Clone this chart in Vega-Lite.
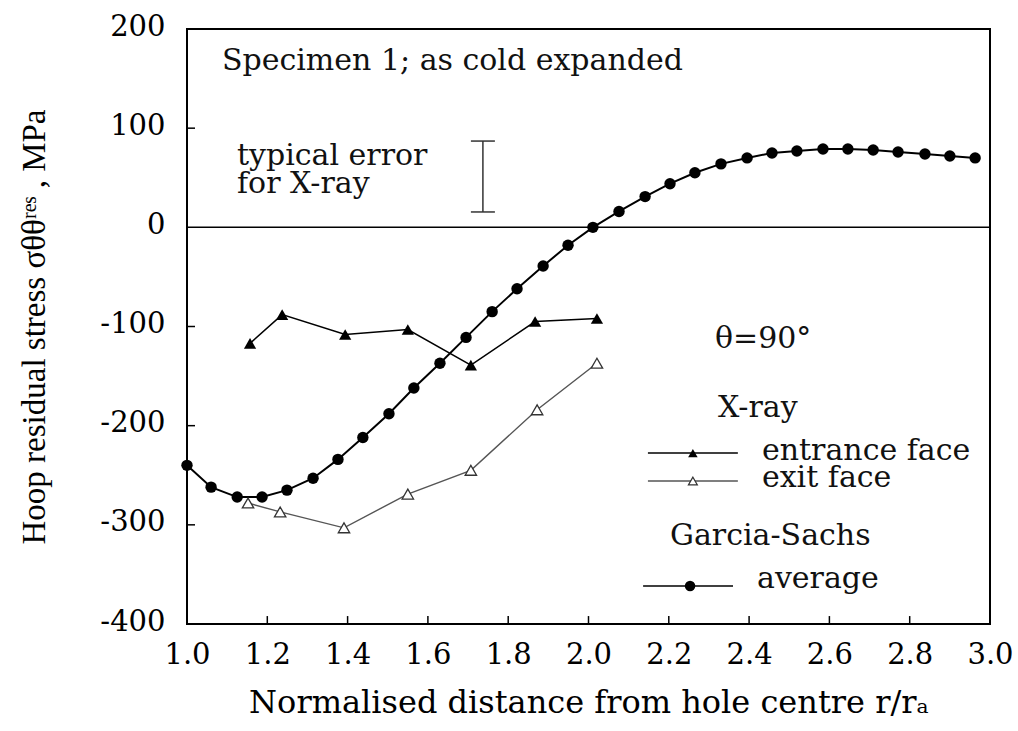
{
  "$schema": "https://vega.github.io/schema/vega-lite/v6.json",
  "width": 803,
  "height": 595,
  "autosize": {"type": "none"},
  "padding": {"left": 187, "top": 29, "right": 28, "bottom": 107},
  "background": "white",
  "config": {
    "font": "DejaVu Serif",
    "view": {"stroke": "black", "strokeWidth": 2},
    "axis": {"grid": false, "domain": false, "ticks": false, "labelColor": "black", "titleColor": "black", "titleFontWeight": "normal", "labelFlush": false, "labelOverlap": false}
  },
  "datasets": {
    "average": [
      {"x": 1.0, "y": -240}, {"x": 1.060, "y": -262}, {"x": 1.125, "y": -272}, {"x": 1.187, "y": -272},
      {"x": 1.249, "y": -265}, {"x": 1.314, "y": -253}, {"x": 1.376, "y": -234}, {"x": 1.438, "y": -212},
      {"x": 1.503, "y": -188}, {"x": 1.565, "y": -162}, {"x": 1.630, "y": -137}, {"x": 1.695, "y": -111},
      {"x": 1.760, "y": -85}, {"x": 1.822, "y": -62}, {"x": 1.887, "y": -39}, {"x": 1.949, "y": -18},
      {"x": 2.011, "y": 0}, {"x": 2.076, "y": 16}, {"x": 2.141, "y": 31}, {"x": 2.203, "y": 44},
      {"x": 2.265, "y": 55}, {"x": 2.330, "y": 64}, {"x": 2.395, "y": 70}, {"x": 2.457, "y": 75},
      {"x": 2.519, "y": 77}, {"x": 2.584, "y": 79}, {"x": 2.646, "y": 79}, {"x": 2.709, "y": 78},
      {"x": 2.771, "y": 76}, {"x": 2.838, "y": 74}, {"x": 2.900, "y": 72}, {"x": 2.963, "y": 70}
    ],
    "entrance": [
      {"x": 1.157, "y": -117}, {"x": 1.237, "y": -88}, {"x": 1.394, "y": -108}, {"x": 1.550, "y": -103},
      {"x": 1.707, "y": -139}, {"x": 1.867, "y": -95}, {"x": 2.021, "y": -92}
    ],
    "exit": [
      {"x": 1.152, "y": -278}, {"x": 1.232, "y": -287}, {"x": 1.391, "y": -303}, {"x": 1.550, "y": -269},
      {"x": 1.707, "y": -245}, {"x": 1.872, "y": -184}, {"x": 2.021, "y": -137}
    ]
  },
  "encoding": {
    "x": {"field": "x", "type": "quantitative", "scale": {"domain": [1, 3], "nice": false, "zero": false},
      "axis": {"values": [1, 1.2, 1.4, 1.6, 1.8, 2, 2.2, 2.4, 2.6, 2.8, 3], "format": ".1f", "labelFontSize": 29, "labelPadding": 16,
        "title": "Normalised distance from hole centre r/rₐ", "titleFontSize": 32, "titlePadding": 18}},
    "y": {"field": "y", "type": "quantitative", "scale": {"domain": [-400, 200], "nice": false},
      "axis": {"values": [-400, -300, -200, -100, 0, 100, 200], "labelExpr": "'' + datum.value", "labelFontSize": 29, "labelPadding": 22, "labelOffset": -3,
        "title": "Hoop residual stress σθθʳᵉˢ , MPa", "titleFont": "Liberation Serif", "titleFontSize": 33, "titlePadding": 48}}
  },
  "layer": [
    {"data": {"values": [{"x": 1.2, "y": -400, "y2": -392}, {"x": 1.4, "y": -400, "y2": -392}, {"x": 1.6, "y": -400, "y2": -392}, {"x": 1.8, "y": -400, "y2": -392}, {"x": 2.0, "y": -400, "y2": -392}, {"x": 2.2, "y": -400, "y2": -392}, {"x": 2.4, "y": -400, "y2": -392}, {"x": 2.6, "y": -400, "y2": -392}, {"x": 2.8, "y": -400, "y2": -392}]},
      "mark": {"type": "rule", "color": "black", "strokeWidth": 1.5}, "encoding": {"y2": {"field": "y2"}}},
    {"data": {"values": [{"x": 1, "x2": 1.02, "y": -300}, {"x": 1, "x2": 1.02, "y": -200}, {"x": 1, "x2": 1.02, "y": -100}, {"x": 1, "x2": 1.02, "y": 100}]},
      "mark": {"type": "rule", "color": "black", "strokeWidth": 1.5}, "encoding": {"x2": {"field": "x2"}}},
    {"data": {"values": [{"x": 1, "x2": 3, "y": 0}]}, "mark": {"type": "rule", "color": "black", "strokeWidth": 1.5}, "encoding": {"x2": {"field": "x2"}}},
    {"data": {"name": "average"}, "mark": {"type": "line", "color": "black", "strokeWidth": 2}},
    {"data": {"name": "average"}, "mark": {"type": "point", "shape": "circle", "filled": true, "color": "black", "size": 130, "opacity": 1}},
    {"data": {"name": "entrance"}, "mark": {"type": "line", "color": "black", "strokeWidth": 1.5}},
    {"data": {"name": "entrance"}, "mark": {"type": "point", "shape": "triangle-up", "filled": true, "color": "black", "size": 150, "opacity": 1}},
    {"data": {"name": "exit"}, "mark": {"type": "line", "color": "#555555", "strokeWidth": 1.4}},
    {"data": {"name": "exit"}, "mark": {"type": "point", "shape": "triangle-up", "filled": true, "fill": "white", "stroke": "#333333", "strokeWidth": 1.3, "size": 130, "opacity": 1}},
    {"data": {"values": [{"x": 1.737, "y": 15.5, "y2": 87}]}, "mark": {"type": "rule", "color": "#333333", "strokeWidth": 1.5}, "encoding": {"y2": {"field": "y2"}}},
    {"data": {"values": [{"x": 1.737, "y": 15.5}, {"x": 1.737, "y": 87}]}, "mark": {"type": "tick", "orient": "horizontal", "color": "#333333", "size": 24, "thickness": 1.5, "opacity": 1}},
    {"data": {"values": [
      {"x": 1.087, "y": 158.7, "label": "Specimen 1; as cold expanded"},
      {"x": 1.1245, "y": 62.9, "label": "typical error"},
      {"x": 1.1245, "y": 34.6, "label": "for X-ray"},
      {"x": 2.315, "y": -121.7, "label": "θ=90°"},
      {"x": 2.3225, "y": -191.3, "label": "X-ray"},
      {"x": 2.432, "y": -234.6, "label": "entrance face"},
      {"x": 2.432, "y": -261.8, "label": "exit face"},
      {"x": 2.203, "y": -320.3, "label": "Garcia-Sachs"},
      {"x": 2.4197, "y": -363.7, "label": "average"}
    ]}, "mark": {"type": "text", "align": "left", "baseline": "alphabetic", "fontSize": 30, "color": "#111111"}, "encoding": {"text": {"field": "label"}}},
    {"data": {"values": [{"x": 2.148, "y": -227.6}, {"x": 2.372, "y": -227.6}]}, "mark": {"type": "line", "color": "black", "strokeWidth": 1.5}},
    {"data": {"values": [{"x": 2.26, "y": -227.6}]}, "mark": {"type": "point", "shape": "triangle-up", "filled": true, "color": "black", "size": 90, "opacity": 1}},
    {"data": {"values": [{"x": 2.148, "y": -255.8}, {"x": 2.372, "y": -255.8}]}, "mark": {"type": "line", "color": "#555555", "strokeWidth": 1.4}},
    {"data": {"values": [{"x": 2.26, "y": -255.8}]}, "mark": {"type": "point", "shape": "triangle-up", "filled": true, "fill": "white", "stroke": "#333333", "strokeWidth": 1.2, "size": 80, "opacity": 1}},
    {"data": {"values": [{"x": 2.136, "y": -361.7}, {"x": 2.36, "y": -361.7}]}, "mark": {"type": "line", "color": "black", "strokeWidth": 1.5}},
    {"data": {"values": [{"x": 2.253, "y": -361.7}]}, "mark": {"type": "point", "shape": "circle", "filled": true, "color": "black", "size": 110, "opacity": 1}}
  ]
}
